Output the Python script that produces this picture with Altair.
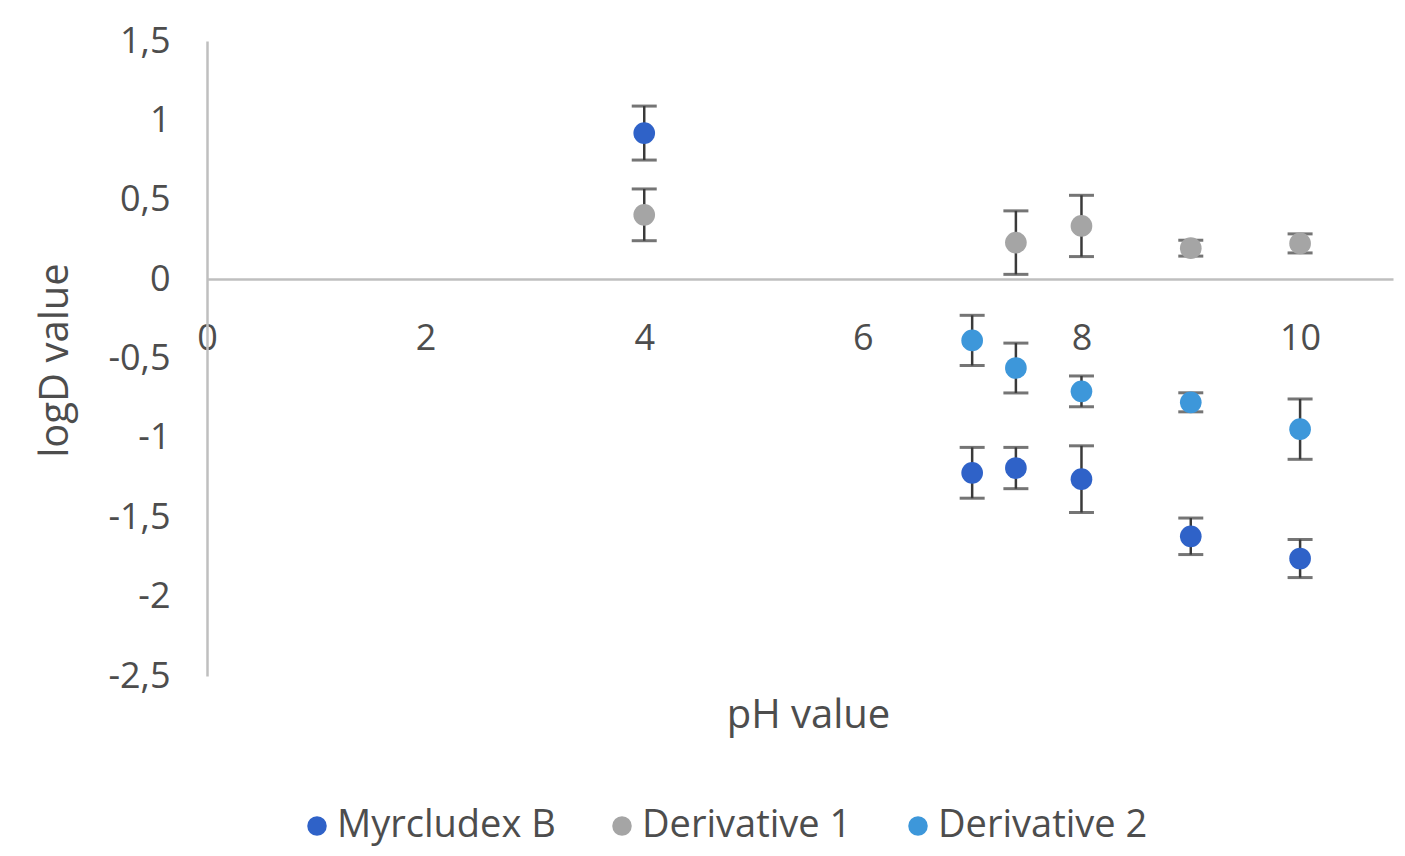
import altair as alt
import pandas as pd

series_names = ["Myrcludex B", "Derivative 1", "Derivative 2"]
series_colors = ["#2F62C8", "#A5A5A5", "#3D97DA"]

myr_ph = [4, 7, 7.4, 8, 9, 10]
myr_logd = [0.92, -1.22, -1.19, -1.26, -1.62, -1.76]
myr_err = [0.17, 0.16, 0.13, 0.21, 0.115, 0.12]

d1_ph = [4, 7.4, 8, 9, 10]
d1_logd = [0.405, 0.23, 0.335, 0.195, 0.225]
d1_err = [0.163, 0.20, 0.193, 0.05, 0.06]

d2_ph = [7, 7.4, 8, 9, 10]
d2_logd = [-0.386, -0.56, -0.707, -0.776, -0.945]
d2_err = [0.158, 0.157, 0.097, 0.06, 0.19]

y_ticks = [-2.5, -2, -1.5, -1, -0.5, 0, 0.5, 1, 1.5]
x_ticks = [0, 2, 4, 6, 8, 10]

rows = []
for name, phs, vals, errs in [
    (series_names[0], myr_ph, myr_logd, myr_err),
    (series_names[1], d1_ph, d1_logd, d1_err),
    (series_names[2], d2_ph, d2_logd, d2_err),
]:
    for p, v, e in zip(phs, vals, errs):
        rows.append({"series": name, "ph": p, "logd": v, "lo": v - e, "hi": v + e})
df = pd.DataFrame(rows)

text_color = "#4D4D4D"
axis_color = "#BFBFBF"

x_enc = alt.X(
    "ph:Q",
    scale=alt.Scale(domain=[0, 10.85], nice=False, zero=False),
    axis=alt.Axis(
        values=x_ticks,
        format="d",
        grid=False,
        ticks=False,
        tickSize=0,
        offset=-397,
        domainColor=axis_color,
        domainWidth=2.5,
        labelFontSize=36,
        labelColor=text_color,
        labelPadding=42,
        labelFlush=False,
        title="pH value",
        titleFontSize=40,
        titleFontWeight="normal",
        titleColor=text_color,
        titleX=601,
        titleY=436,
        titleBaseline="middle",
        titleAlign="center",
    ),
)

y_scale = alt.Scale(domain=[-2.5, 1.5], nice=False, zero=False)
y_axis = alt.Axis(
    values=y_ticks,
    labelExpr="replace(replace(format(datum.value, '.1~f'), '.', ','), '\u2212', '-')",
    grid=False,
    ticks=False,
    tickSize=0,
    domainColor=axis_color,
    domainWidth=2.5,
    labelFontSize=36,
    labelColor=text_color,
    labelPadding=37,
    labelFlush=False,
    title="logD value",
    titleFontSize=40,
    titleFontWeight="normal",
    titleColor=text_color,
    titleX=-152,
    titleY=319,
    titleAngle=-90,
    titleAlign="center",
    titleBaseline="middle",
)

base = alt.Chart(df)

rules = base.mark_rule(color="#3A3A3A", strokeWidth=2.5).encode(
    x=x_enc,
    y=alt.Y("lo:Q", scale=y_scale, axis=y_axis),
    y2="hi:Q",
)
caps_hi = base.mark_tick(color="#3A3A3A", orient="horizontal", size=25, thickness=3).encode(
    x="ph:Q", y="hi:Q"
)
caps_lo = base.mark_tick(color="#3A3A3A", orient="horizontal", size=25, thickness=3).encode(
    x="ph:Q", y="lo:Q"
)
points = base.mark_circle(size=470, opacity=1).encode(
    x="ph:Q",
    y="logd:Q",
    color=alt.Color(
        "series:N",
        sort=series_names,
        scale=alt.Scale(domain=series_names, range=series_colors),
        legend=alt.Legend(
            orient="none",
            legendX=91,
            legendY=766,
            direction="horizontal",
            columns=3,
            title=None,
            labelFontSize=38,
            labelLimit=0,
            labelColor=text_color,
            symbolType="circle",
            symbolSize=380,
            symbolStrokeWidth=0,
            labelOffset=1,
            columnPadding=47,
        ),
    ),
)

chart = (
    alt.layer(rules, caps_hi, caps_lo, points)
    .properties(
        width=1186,
        height=635,
        padding={"left": 199, "top": 33, "right": 4, "bottom": 172},
        autosize=alt.AutoSizeParams(type="none"),
    )
    .configure(font="Open Sans")
    .configure_view(stroke=None)
)

chart.save("out.html", embed_options={"renderer": "svg", "actions": False})
